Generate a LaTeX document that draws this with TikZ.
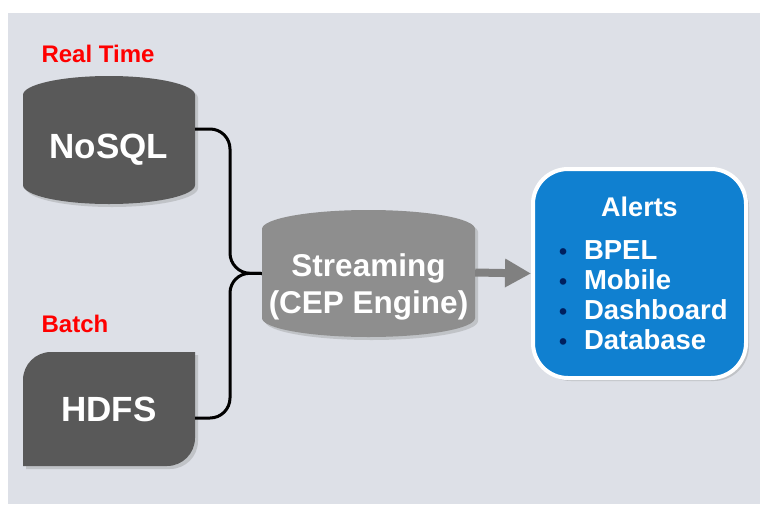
\documentclass[tikz,border=0pt]{standalone}
\usepackage{fontspec}
\setmainfont{Liberation Sans}
\usetikzlibrary{calc,shadows,arrows.meta}

\definecolor{canvasgray}{RGB}{221,224,231}
\definecolor{storegray}{RGB}{89,89,89}
\definecolor{enginegray}{RGB}{142,142,142}
\definecolor{arrowgray}{RGB}{128,128,128}
\definecolor{alertblue}{RGB}{16,128,208}
\definecolor{bulletnavy}{RGB}{0,32,96}

\newcommand{\alertitem}[1]{\noindent\makebox[25pt][l]{\fontsize{23}{23}\selectfont\textcolor{bulletnavy}{\textbullet}}\rlap{#1}\par}
% can: colour, left x, top y, width, height
\newcommand{\canfill}[5]{\fill[#1, softshadow] (#2,#3+19)
    arc[start angle=180, end angle=360, x radius=#4/2, y radius=19] -- (#2+#4,#3+#5-19)
    arc[start angle=0, end angle=180, x radius=#4/2, y radius=19] -- cycle;}

\tikzset{
  softshadow/.style={drop shadow={shadow xshift=3pt, shadow yshift=-3pt, opacity=0.3}},
  face/.style={inner sep=0pt, text=white, font=\fontsize{35}{40}\selectfont\bfseries},
  engine/.style={face, align=center, font=\fontsize{31.5}{37}\selectfont\bfseries},
  tag/.style={text=red, font=\fontsize{24}{28}\selectfont\bfseries},
  feed/.style={line width=3pt, rounded corners=20pt},
  push/.style={draw=arrowgray, line width=8pt, -{Triangle[length=26pt,width=27pt]}},
  alertbox/.style={draw=white, line width=4pt, fill=alertblue, rounded corners=35pt,
    minimum width=213pt, minimum height=209pt, text width=161pt, inner sep=0pt,
    softshadow, text=white, font=\fontsize{27.5}{30}\selectfont\bfseries}
}

\begin{document}
\begin{tikzpicture}[x=1pt, y=-1pt]
    % Canvas
    \useasboundingbox (0,0) rectangle (760,504);
    \fill[white] (0,0) rectangle (760,504);
    \fill[canvasgray] (8,13) rectangle (760,504);

    % Labels
    \node[tag] (realtime) at (98,54) {Real Time};
    \node[tag] (batch) at (75,324) {Batch};

    % Stores
    \canfill{storegray}{23}{76}{172}{128}
    \node[face, minimum width=172pt, minimum height=109pt] (nosql) at (109,150) {NoSQL};
    \coordinate (nosqlport) at (195,129);
    \fill[storegray, softshadow] (23,466) -- (23,380)
        arc[start angle=180, end angle=270, radius=28] -- (195,352) -- (195,438)
        arc[start angle=0, end angle=90, radius=28] -- cycle;
    \node[face, minimum width=172pt, minimum height=114pt] (hdfs) at (109,409) {HDFS};
    \coordinate (hdfsport) at (195,418);

    % Engine
    \canfill{enginegray}{262}{210}{213}{127}
    \node[engine, minimum width=213pt, minimum height=108pt] (stream) at (368.5,286.5)
        {Streaming\\(CEP Engine)};

    % Alerts
    \node[alertbox] (alerts) at (639.5,273.5) {%
        {\centering\fontsize{27}{30}\selectfont Alerts\par}\vspace{13pt}%
        \alertitem{BPEL}\alertitem{Mobile}\alertitem{Dashboard}\alertitem{Database}};

    % Brace
    \coordinate (bend) at (230,273);
    \draw[feed] (nosqlport) -| (bend) -- ($(stream.west)+(0,-13)$);
    \draw[feed] ($(stream.west)+(0,-13)$) -- (bend) |- (hdfsport);

    % Arrow
    \draw[push] ($(stream.east)+(0,-14)$) -- (alerts.west);
\end{tikzpicture}
\end{document}
